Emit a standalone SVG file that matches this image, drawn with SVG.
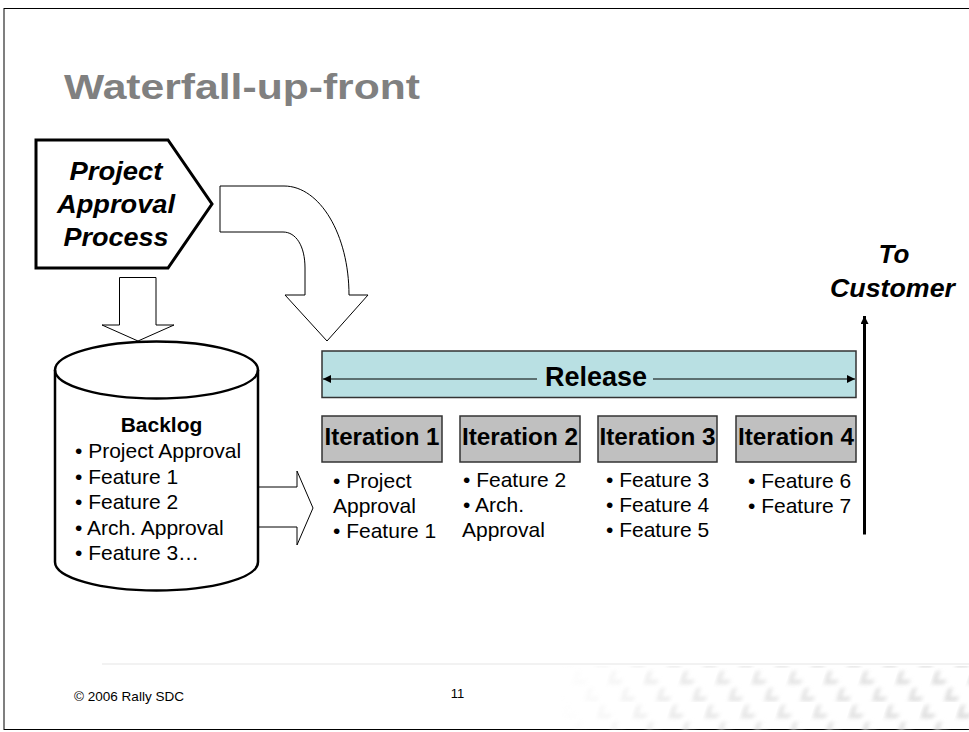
<svg xmlns="http://www.w3.org/2000/svg" width="969" height="732" viewBox="0 0 969 732">
<style>
text{font-family:"Liberation Sans",Arial,sans-serif;fill:#000}
.bi{font-weight:bold;font-style:italic;font-size:26px}
.it{font-size:21px}
.hd{font-weight:bold;font-size:24px}
.blk{fill:#fff;stroke:#000;stroke-width:1}
.iter{fill:#c0c0c0;stroke:#333;stroke-width:1.5}
.foot{font-size:13px}
</style>
<defs>
<marker id="ah" viewBox="0 0 10 10" refX="10" refY="5" markerWidth="8" markerHeight="8" markerUnits="userSpaceOnUse" orient="auto-start-reverse">
<path d="M0,0 L10,5 L0,10 Z" fill="#000"/>
</marker>
<filter id="bl" x="-50%" y="-50%" width="200%" height="200%"><feGaussianBlur stdDeviation="2.2"/></filter>
<pattern id="chk" width="36" height="34" patternUnits="userSpaceOnUse" patternTransform="translate(575,668) skewX(-18)">
<path d="M4,3 L4,14 L15,14 M22,20 L22,31 L33,31" fill="none" stroke="#d4d4d4" stroke-width="4" filter="url(#bl)"/>
</pattern>
<linearGradient id="fade" x1="0" y1="0" x2="1" y2="0">
<stop offset="0" stop-color="#fff" stop-opacity="0"/>
<stop offset="0.3" stop-color="#fff" stop-opacity="0.6"/>
<stop offset="1" stop-color="#fff" stop-opacity="0.9"/>
</linearGradient>
<mask id="mk"><rect x="560" y="660" width="409" height="72" fill="url(#fade)"/></mask>
</defs>
<rect width="969" height="732" fill="#fff"/>
<rect x="4" y="8.5" width="980" height="721" fill="none" stroke="#000" stroke-width="1"/>
<line x1="102" y1="664" x2="969" y2="664" stroke="#f2f2f2" stroke-width="2"/>
<rect x="560" y="666" width="409" height="64" fill="url(#chk)" mask="url(#mk)"/>

<text x="64" y="99" font-size="35" font-weight="bold" style="fill:#808080" textLength="356" lengthAdjust="spacingAndGlyphs">Waterfall-up-front</text>

<g id="connectors">
<path class="blk" d="M119.5,277.5 L156,277.5 L156,325 L174,325 L138,341 L102,325 L119.5,325 Z"/>
<path class="blk" d="M220,186 L284,186 C320,186 349,235 349,295 L368,295 L327,341 L285,295 L305,295 L305,268 C305,246 296,232 283,232 L220,232 Z"/>
<path class="blk" d="M258,487 L297,487 L297,471 L313,508 L297,545 L297,527 L258,527"/>
<line x1="864.5" y1="534.5" x2="864.5" y2="316" stroke="#000" stroke-width="3" marker-end="url(#ah)"/>
</g>

<g id="approval">
<polygon points="36,140 168,140 212,204 168,268 36,268" fill="#fff" stroke="#000" stroke-width="3"/>
<text class="bi" x="116" y="180" text-anchor="middle" textLength="93" lengthAdjust="spacingAndGlyphs">Project</text>
<text class="bi" x="116" y="213" text-anchor="middle" textLength="118" lengthAdjust="spacingAndGlyphs">Approval</text>
<text class="bi" x="116" y="246" text-anchor="middle" textLength="105" lengthAdjust="spacingAndGlyphs">Process</text>
</g>

<g id="backlog">
<path d="M55,370 L55,562 A101.5,28.5 0 0 0 258,562 L258,370 A101.5,28.5 0 0 0 55,370 Z" fill="#fff" stroke="#000" stroke-width="2.5"/>
<path d="M55,370 A101.5,28.5 0 0 0 258,370" fill="none" stroke="#000" stroke-width="2.5"/>
<text x="161.5" y="432" font-size="21" font-weight="bold" text-anchor="middle">Backlog</text>
<text class="it" x="75" y="458">• Project Approval</text>
<text class="it" x="75" y="483.5">• Feature 1</text>
<text class="it" x="75" y="509">• Feature 2</text>
<text class="it" x="75" y="534.5">• Arch. Approval</text>
<text class="it" x="75" y="560">• Feature 3…</text>
</g>

<g id="release">
<rect x="322" y="351" width="534" height="46.5" fill="#b9e0e3" stroke="#333" stroke-width="1.5"/>
<line x1="537" y1="379" x2="323" y2="379" stroke="#000" stroke-width="1.2" marker-end="url(#ah)"/>
<line x1="653" y1="379" x2="855" y2="379" stroke="#000" stroke-width="1.2" marker-end="url(#ah)"/>
<text x="596" y="386" font-size="27" font-weight="bold" text-anchor="middle">Release</text>
</g>

<g id="iter1">
<rect class="iter" x="322" y="416" width="120" height="46"/>
<text class="hd" x="382" y="445" text-anchor="middle" textLength="115" lengthAdjust="spacingAndGlyphs">Iteration 1</text>
<text class="it" x="333" y="487.5">• Project</text>
<text class="it" x="333" y="513">Approval</text>
<text class="it" x="333" y="538">• Feature 1</text>
</g>
<g id="iter2">
<rect class="iter" x="460" y="416" width="120" height="46"/>
<text class="hd" x="520" y="445" text-anchor="middle" textLength="116" lengthAdjust="spacingAndGlyphs">Iteration 2</text>
<text class="it" x="463" y="487">• Feature 2</text>
<text class="it" x="463" y="512">• Arch.</text>
<text class="it" x="462" y="537">Approval</text>
</g>
<g id="iter3">
<rect class="iter" x="598" y="416" width="119" height="46"/>
<text class="hd" x="657.5" y="445" text-anchor="middle" textLength="116" lengthAdjust="spacingAndGlyphs">Iteration 3</text>
<text class="it" x="606" y="487">• Feature 3</text>
<text class="it" x="606" y="512">• Feature 4</text>
<text class="it" x="606" y="537">• Feature 5</text>
</g>
<g id="iter4">
<rect class="iter" x="736" y="416" width="120" height="46"/>
<text class="hd" x="796" y="445" text-anchor="middle" textLength="116" lengthAdjust="spacingAndGlyphs">Iteration 4</text>
<text class="it" x="748" y="488">• Feature 6</text>
<text class="it" x="748" y="513">• Feature 7</text>
</g>

<g id="customer">
<text class="bi" x="894" y="263" text-anchor="middle">To</text>
<text class="bi" x="892.5" y="297" text-anchor="middle" textLength="125" lengthAdjust="spacingAndGlyphs">Customer</text>
</g>

<text class="foot" x="74" y="701" textLength="110" lengthAdjust="spacingAndGlyphs">© 2006 Rally SDC</text>
<text class="foot" x="457.5" y="698" text-anchor="middle">11</text>
</svg>
